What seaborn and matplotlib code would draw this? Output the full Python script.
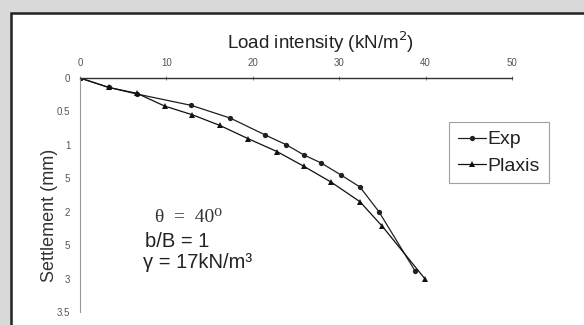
import matplotlib
matplotlib.use("Agg")
import matplotlib.pyplot as plt
import pandas as pd
import seaborn as sns
from matplotlib.patches import Rectangle

# values
exp_load = [0, 3.3, 6.6, 12.9, 17.4, 21.4, 23.9, 25.9, 27.9, 30.2, 32.4, 34.6, 38.8]
exp_settle = [0, 0.14, 0.24, 0.41, 0.60, 0.85, 1.0, 1.15, 1.27, 1.45, 1.63, 2.0, 2.89]
plaxis_load = [0, 3.3, 6.6, 9.8, 13.0, 16.2, 19.5, 22.8, 25.9, 29.1, 32.4, 35.0, 39.9]
plaxis_settle = [0, 0.14, 0.23, 0.42, 0.55, 0.71, 0.91, 1.10, 1.32, 1.56, 1.85, 2.22, 3.0]

x_ticks = [0, 10, 20, 30, 40, 50]
y_ticks = [0, 0.5, 1, 1.5, 2, 2.5, 3, 3.5]
y_tick_labels = ["0", "0.5", "1", "5", "2", "5", "3", "3.5"]


def main():
    df = pd.concat(
        [
            pd.DataFrame({"load": exp_load, "settlement": exp_settle, "series": "Exp"}),
            pd.DataFrame({"load": plaxis_load, "settlement": plaxis_settle, "series": "Plaxis"}),
        ],
        ignore_index=True,
    )

    sns.set_theme(style="white")
    plt.rcParams["font.family"] = ["Liberation Sans", "DejaVu Sans"]

    fig = plt.figure(figsize=(5.84, 3.25), dpi=100)
    fig.patch.set_facecolor("#d9d9d9")
    # white frame with dark border, running off the right and bottom edges
    fig.patches.append(
        Rectangle((11 / 584, -0.2), 1.2, 1.2 - 13 / 325, transform=fig.transFigure,
                  facecolor="white", edgecolor="#222222", linewidth=1.8, zorder=-10)
    )

    ax = fig.add_axes([80 / 584, 1 - 312 / 325, 432 / 584, 234 / 325])
    ax.set_facecolor("none")

    sns.lineplot(
        data=df, x="load", y="settlement", hue="series", style="series",
        markers={"Exp": "o", "Plaxis": "^"}, dashes=False, sort=False,
        palette={"Exp": "#202020", "Plaxis": "#101010"},
        markersize=3.8, linewidth=0.9, markeredgewidth=0, ax=ax,
    )

    ax.set_xlim(0, 50)
    ax.set_ylim(3.5, 0)
    ax.xaxis.tick_top()
    ax.set_xticks(x_ticks)
    ax.set_yticks(y_ticks)
    ax.set_yticklabels(y_tick_labels)
    ax.tick_params(axis="both", labelsize=7, colors="#666666", length=3, width=0.6)
    ax.tick_params(axis="x", direction="inout", pad=6)
    ax.tick_params(axis="y", direction="out", pad=4)
    for t in ax.get_xticklabels() + ax.get_yticklabels():
        t.set_color("#555555")

    for side in ["right", "bottom"]:
        ax.spines[side].set_visible(False)
    ax.spines["top"].set_color("#333333")
    ax.spines["top"].set_linewidth(1.0)
    ax.spines["left"].set_color("#999999")
    ax.spines["left"].set_linewidth(0.8)

    ax.set_xlabel("Load intensity (kN/m$^2$)", fontsize=13.5, color="#222222")
    ax.xaxis.set_label_position("top")
    ax.xaxis.label.set_va("center")
    ax.xaxis.set_label_coords(0.556, 1.154)
    ax.set_ylabel("Settlement (mm)", fontsize=13, color="#333333")
    ax.yaxis.label.set_va("center")
    ax.yaxis.set_label_coords(-0.07, 0.415)

    ax.text(8.7, 2.09, "θ  =  40⁰", fontsize=14, color="#333333", va="center",
            family=["Liberation Serif", "DejaVu Serif"])
    ax.text(7.5, 2.45, "b/B = 1", fontsize=14.5, color="#222222", va="center")
    ax.text(7.3, 2.76, "γ = 17kN/m³", fontsize=14.5, color="#222222", va="center")

    leg = ax.legend(
        loc="upper left", bbox_to_anchor=(0.854, 0.812), borderaxespad=0,
        fontsize=14, frameon=True, fancybox=False, handlelength=1.45,
        handletextpad=0.1, borderpad=0.45, labelspacing=0.45, title=None,
    )
    leg.get_frame().set_edgecolor("#888888")
    leg.get_frame().set_linewidth(0.8)
    for t in leg.get_texts():
        t.set_color("#222222")

    fig.savefig("out.png", dpi=100, facecolor=fig.get_facecolor())


if __name__ == "__main__":
    main()
